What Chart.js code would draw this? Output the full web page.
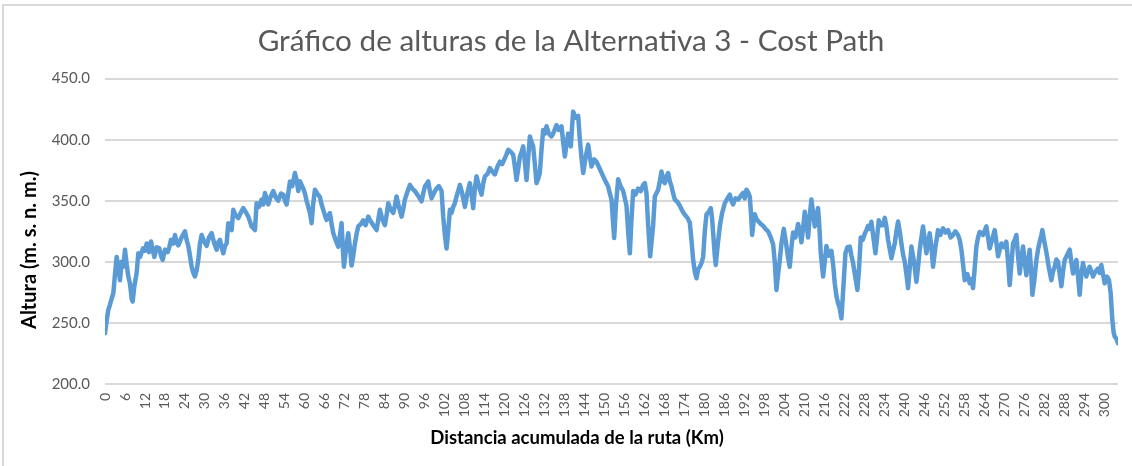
<!DOCTYPE html>
<html>
<head>
<meta charset="utf-8">
<title>Gráfico de alturas - Alternativa 3</title>
<script src="https://cdn.jsdelivr.net/npm/chart.js@4.4.1/dist/chart.umd.min.js"></script>
<style>
  html, body { margin: 0; padding: 0; background: #ffffff; }
  #grafico { display: block; }
</style>
</head>
<body>
<canvas id="grafico" width="1132" height="466"></canvas>
<script>
const distancias = [
  0, 0.5, 1, 1.5, 2, 2.5, 3, 3.5, 4, 4.5, 5, 5.5, 6, 6.5, 7, 7.5, 8, 8.3, 8.8, 9.5,
  10, 10.5, 11.4, 12, 12.5, 13.2, 13.8, 14.3, 14.8, 15.5, 16.3, 16.8, 17.3, 18, 18.8, 19.3, 19.8,
  20.5, 21, 21.5, 22, 23, 24, 24.5, 25, 25.5, 26, 26.5, 27, 27.5, 28, 28.5, 29, 29.7,
  30.5, 31.2, 32, 32.8, 33.5, 34, 34.5, 35, 35.5, 36, 36.5, 37, 37.5, 38, 38.5, 39.2,
  40, 40.7, 41.5, 42.2, 43, 43.5, 44, 45, 45.5, 46.2, 47, 47.5, 48, 48.5, 49, 49.8,
  50.5, 51.2, 52, 52.8, 53.5, 54, 54.5, 55, 55.5, 56.2, 57, 57.5, 58, 58.5, 59, 59.5,
  60, 60.5, 61, 61.5, 62, 62.5, 63, 63.7, 64.5, 65, 65.5, 66, 66.5, 67, 67.5, 68, 68.5, 69.2,
  70, 70.5, 71, 71.3, 71.7, 72.3, 73, 73.5, 74, 74.5, 75, 75.5, 76, 76.8, 77.5, 78.2, 79, 79.5,
  80.5, 81.5, 82.5, 83.2, 84, 84.5, 85, 85.7, 86.5, 87, 87.5, 88.2, 89, 89.5,
  90, 90.7, 91.5, 92.2, 93, 94, 95, 95.5, 96, 97, 97.5, 98, 98.8, 99.5,
  100.2, 101, 101.5, 102, 102.5, 103, 103.5, 104, 104.5, 105, 105.5, 106, 106.5, 107.2, 108, 108.8, 109.5,
  110, 110.5, 111, 111.5, 112.2, 113, 113.5, 114, 114.8, 115.5, 116.2, 117, 117.8, 118.5, 119.2,
  120, 120.5, 121, 121.8, 122.5, 123, 123.5, 124, 124.5, 125, 125.5, 126, 126.5, 127, 127.5, 128, 128.5, 129, 129.5,
  130, 130.5, 131, 131.5, 132, 132.5, 133.2, 134, 134.8, 135.5, 136.2, 137, 137.5, 138, 138.5, 139, 139.5, 139.8,
  140.2, 140.5, 141.2, 142, 142.5, 143, 143.5, 144.2, 145, 145.5, 146, 146.8, 147.5, 148.5, 149.5,
  150.2, 151, 151.5, 152, 152.4, 152.8, 153.3, 154, 154.7, 155.5, 156, 156.5, 157, 157.5, 158, 158.5, 159.2,
  160, 160.8, 161.5, 162, 162.5, 163, 163.6, 164.5, 165, 166, 166.5, 167, 167.5, 168, 168.5, 169, 169.5,
  170, 170.5, 171, 171.8, 172.5, 173.2, 174, 174.8, 175.5, 176, 176.5, 177, 177.5, 178, 178.5, 179, 179.5,
  180, 180.5, 181.2, 181.8, 182.2, 182.5, 183, 183.3, 183.8, 184.5, 185.2, 186, 186.8, 187.5, 188, 188.5, 189.2,
  190, 190.8, 191.5, 192, 192.5, 193, 193.5, 193.9, 194.2, 194.6, 195, 195.5, 196, 196.8, 197.5, 198.2, 199, 199.8,
  200.5, 201, 201.5, 202, 202.5, 203, 203.7, 204.1, 204.5, 205, 205.5, 206, 206.5, 207.2, 208, 208.5, 209, 209.5,
  210, 210.5, 211, 211.5, 212, 212.5, 213, 213.5, 214, 214.4, 214.8, 215.5, 216, 216.5, 217.2, 218, 218.5, 219, 219.5,
  220, 220.5, 221, 221.6, 222.2, 222.8, 223.5, 224, 224.5, 225.2, 225.8, 226.3, 226.8, 227.4, 228, 228.5, 229, 229.5,
  230, 230.6, 231.2, 231.7, 232.2, 232.8, 233.5, 234, 234.5, 235, 236, 236.5, 237, 237.5, 238, 238.5, 239, 239.5,
  240, 240.5, 241, 241.5, 242, 242.8, 243.5, 244, 244.5, 245, 245.5, 246, 246.5, 247, 247.5, 248, 248.5, 249.2,
  250, 250.7, 251.5, 252.2, 253, 253.8, 254.5, 255.2, 256, 256.5, 257, 257.5, 258, 258.8, 259.5,
  260, 260.5, 261, 261.5, 262, 262.5, 263.5, 264.5, 265, 265.5, 266.2, 267, 267.5, 268, 268.5, 269, 269.8,
  270.5, 271, 271.5, 272, 272.5, 273, 273.5, 274, 274.5, 275, 275.5, 276, 276.5, 277, 277.5, 278, 278.3, 278.9, 279.5,
  280, 280.5, 281, 281.3, 281.8, 282.5, 283.2, 284, 284.5, 285, 285.5, 286, 286.5, 287, 287.5, 288, 288.8, 289.5,
  290, 290.5, 291, 291.5, 292, 292.5, 293, 293.5, 294, 294.5, 295, 295.5, 296, 296.5, 297.2, 298, 298.5, 299, 299.5,
  300, 300.7, 301.3, 301.8, 302.3, 302.7, 303, 303.5, 304
];

const alturas = [
  241.5, 252, 260.7, 265, 270, 274.3, 290, 304, 296, 285, 300, 296, 310, 298, 288, 282, 270, 267.5, 280, 291,
  307, 304, 311, 309, 315, 308, 316.6, 310, 304, 312, 311, 305, 301.6, 310, 308, 312, 318,
  315, 322, 316, 313.5, 320, 325, 318, 313, 305, 296, 291, 288, 293, 301.6, 315, 322, 317,
  313, 320, 323.5, 315, 310, 316, 318, 312, 307, 313, 315, 331.7, 328, 326, 342.6, 338,
  335.8, 340, 344, 341, 337, 333, 329, 326, 348, 345, 351, 347, 356.3, 352, 347, 354,
  358, 353, 350, 356, 355, 350, 347, 356, 365.8, 362, 372.7, 367, 358, 366, 363, 360,
  356, 350, 345, 340, 331.7, 348, 359, 356, 353, 347, 342.6, 338, 334.4, 338, 340, 331, 323.5, 318,
  312.5, 322, 331.7, 315, 296, 310, 323.5, 312, 297, 305, 315, 323, 329, 331, 334, 330, 337, 334.4,
  330, 326, 342.6, 335, 330, 338, 348, 343, 340, 346, 353.5, 345, 337, 343,
  351, 357, 363, 360, 358, 354, 349.5, 356, 361.7, 365.8, 358, 352, 357, 360,
  362, 358, 337, 322, 311, 325, 342.6, 340, 345, 348, 353.5, 358, 363, 356, 345, 357, 364.5,
  355, 344, 360, 370, 362, 355, 364, 370, 372, 376.8, 374, 371.6, 378, 382, 380,
  385, 388, 391.8, 390, 387.7, 378, 367, 376, 386, 390, 394.5, 382, 367, 385, 402.7, 398, 394.5, 380, 364.5,
  368, 373, 392, 408, 405, 411, 405, 402.7, 407, 412, 408, 411, 398, 386.3, 396, 405, 398, 394.5,
  412, 423, 418, 419.5, 400, 385, 372.7, 385, 396, 386, 378, 384, 382, 376, 370,
  366, 361.7, 356, 351, 335, 319.5, 345, 367.7, 362, 358, 352, 346, 325, 307, 335, 358, 355,
  360, 358, 363, 364.5, 356, 330, 304.5, 330, 353.5, 359, 366, 374, 366, 364.5, 370, 372.7, 366,
  362, 356, 351, 349, 346, 342, 338.5, 336, 332, 318, 301.6, 292, 286.6, 294, 296, 299, 304,
  325, 338.8, 341, 344, 335, 324, 305, 297.5, 312, 329, 340, 348, 352, 355, 350, 347, 352,
  351, 354, 356.5, 352, 359, 357, 353.5, 338, 322, 332, 339, 335, 333.5, 331, 329.5, 327, 325, 320,
  314.5, 300, 277, 290, 301.6, 315, 327, 320, 313, 303, 296, 312, 324, 320, 331, 325, 316, 328,
  341, 332, 320, 338, 351, 340, 329, 338, 344, 328, 307, 288, 300, 313, 305, 309, 298, 282.5, 272,
  266, 262, 253.8, 280, 307, 312, 312.5, 305, 299, 287, 277, 295, 320, 318, 323, 326, 329.5, 327,
  332.9, 320, 307, 320, 334, 330, 330, 336, 329, 318, 303, 309, 315, 325, 333, 325, 315, 306,
  300, 290, 278.5, 295, 312.5, 300, 283.8, 296, 310, 320, 329, 318, 307, 316, 323.5, 312, 296, 312,
  326, 322, 327.5, 324, 326, 320, 322, 325, 322, 318, 310, 298, 285, 290, 282.5,
  286, 278.5, 295, 312.5, 320, 324.5, 322, 329, 320, 311, 318, 326, 316, 304.5, 310, 315, 312,
  316.5, 300, 281, 298, 315, 318, 322, 305, 290.5, 302, 312.5, 300, 289, 300, 310, 290, 273, 285, 301.5,
  310, 316.5, 322, 326, 318, 308, 296, 285, 292, 296, 302, 300, 290, 280, 292, 301.5, 306, 310,
  300, 290.5, 296, 301.5, 288, 273, 290, 299, 292, 288, 293, 296, 292, 288, 292, 294.5, 291, 297.5, 290,
  282.5, 288, 285, 274.5, 252.5, 242, 239, 237, 233.4
];

const ticksKm = [
  0, 6, 12, 18, 24, 30, 36, 42, 48, 54, 60, 66, 72, 78, 84, 90, 96, 102, 108, 114,
  120, 126, 132, 138, 144, 150, 156, 162, 168, 174, 180, 186, 192, 198, 204, 210,
  216, 222, 228, 234, 240, 246, 252, 258, 264, 270, 276, 282, 288, 294, 300
];
const ticksAltura = [200, 250, 300, 350, 400, 450];

const tituloX = 'Distancia acumulada de la ruta (Km)';
const tituloY = 'Altura (m. s. n. m.)';

const gris = '#595959';
Chart.defaults.font.family = 'Lato';

// marco gris claro arriba y a la izquierda
const marco = {
  id: 'marco',
  beforeDraw(chart) {
    const ctx = chart.ctx;
    ctx.save();
    ctx.fillStyle = '#ffffff';
    ctx.fillRect(0, 0, chart.width, chart.height);
    ctx.fillStyle = '#d9d9d9';
    ctx.fillRect(2, 4, chart.width, 2);
    ctx.fillRect(2, 4, 2, chart.height);
    ctx.restore();
  }
};

// titulos de los ejes, colocados como en el original
const titulosEjes = {
  id: 'titulosEjes',
  afterDraw(chart) {
    const ctx = chart.ctx;
    ctx.save();
    ctx.fillStyle = '#000000';
    ctx.textAlign = 'center';
    ctx.textBaseline = 'middle';
    ctx.font = 'bold 18.5px Lato';
    ctx.fillText(tituloX, 577, 438);
    ctx.translate(30, 250);
    ctx.rotate(-Math.PI / 2);
    ctx.font = 'bold 20px Lato';
    ctx.fillText(tituloY, 0, 0);
    ctx.restore();
  }
};

const puntos = alturas.map((a, i) => ({ x: distancias[i], y: a }));

new Chart(document.getElementById('grafico'), {
  type: 'line',
  data: {
    datasets: [{
      label: 'Altura',
      data: puntos,
      borderColor: '#5b9bd5',
      borderWidth: 4.5,
      borderJoinStyle: 'round',
      borderCapStyle: 'round',
      pointRadius: 0,
      tension: 0,
      fill: false
    }]
  },
  options: {
    responsive: false,
    animation: false,
    devicePixelRatio: 1,
    layout: { padding: { left: 24, right: 14, top: 0, bottom: 0 } },
    plugins: {
      legend: { display: false },
      tooltip: { enabled: false },
      title: {
        display: true,
        text: 'Gráfico de alturas de la Alternativa 3 - Cost Path',
        color: gris,
        font: { size: 29.7, weight: 'normal' },
        padding: { top: 24, bottom: 19 }
      }
    },
    scales: {
      x: {
        type: 'linear',
        min: 0,
        max: 304,
        afterBuildTicks: s => { s.ticks = ticksKm.map(v => ({ value: v })); },
        afterFit: s => { s.height = 82; },
        ticks: {
          autoSkip: false,
          minRotation: 90,
          maxRotation: 90,
          padding: 9,
          color: gris,
          font: { size: 14 }
        },
        grid: { display: false, drawTicks: false },
        border: { display: false }
      },
      y: {
        min: 200,
        max: 450,
        afterBuildTicks: s => { s.ticks = ticksAltura.map(v => ({ value: v })); },
        afterFit: s => { s.width = 81; },
        ticks: {
          padding: 15,
          color: gris,
          font: { size: 15 },
          callback: v => v.toFixed(1)
        },
        grid: { color: '#d9d9d9', lineWidth: 2, drawTicks: false },
        border: { display: false }
      }
    }
  },
  plugins: [marco, titulosEjes]
});
</script>
</body>
</html>
